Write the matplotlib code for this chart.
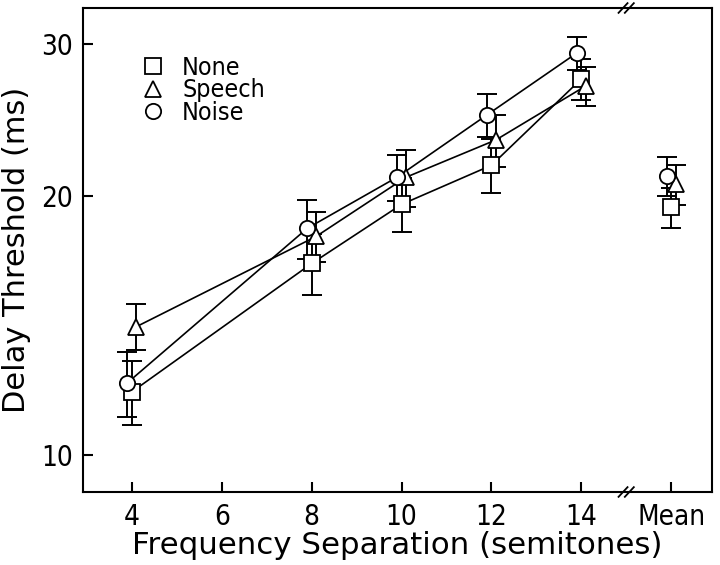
import matplotlib
matplotlib.use('Agg')
import matplotlib.pyplot as plt
from matplotlib import font_manager
from matplotlib.lines import Line2D
import matplotlib.transforms as mtransforms

# ── data (ms) ────────────────────────────────────────────────────────────────
separation = [4, 8, 10, 12, 14]
mean_pos = 16
x_ticks = [4, 6, 8, 10, 12, 14, 16]
x_ticklabels = ["4", "6", "8", "10", "12", "14", "Mean"]
y_ticks = [10, 20, 30]

none_thr = [11.84, 16.68, 19.53, 21.68, 27.3]
none_err = [1.00, 1.35, 1.41, 1.56, 1.50]
none_mean, none_mean_err = 19.37, 1.01

speech_thr = [14.09, 17.93, 21.0, 23.2, 26.8]
speech_err = [0.86, 1.19, 1.58, 1.61, 1.40]
speech_mean, speech_mean_err = 20.6, 1.10

noise_thr = [12.13, 18.32, 21.0, 24.8, 29.26]
noise_err = [1.05, 1.43, 1.27, 1.43, 1.28]
noise_mean, noise_mean_err = 21.05, 1.10

# ── fonts: narrow sans for ticks/legend, DejaVu for the axis titles ──────────
names = {f.name for f in font_manager.fontManager.ttflist}
if 'Liberation Sans Narrow' in names:
    NARROW = {'family': ['Liberation Sans Narrow', 'DejaVu Sans']}
else:
    NARROW = {'family': ['DejaVu Sans'], 'stretch': 'condensed'}
plt.rcParams['font.family'] = ['DejaVu Sans']

series = [
    ("None",   's', 0.0,  none_thr,   none_err,   none_mean,   none_mean_err),
    ("Speech", '^', 0.1,  speech_thr, speech_err, speech_mean, speech_mean_err),
    ("Noise",  'o', -0.1, noise_thr,  noise_err,  noise_mean,  noise_mean_err),
]

fig = plt.figure(figsize=(7.2, 5.65), dpi=100)
ax = fig.add_axes([83/720, 1 - 492/565, 629/720, 484/565])

for label, mk, off, thr, err, m, merr in series:
    xs = [x + off for x in separation]
    ax.plot(xs, thr, '-', color='black', lw=1.2, zorder=2)
    ax.errorbar(xs + [mean_pos + off], thr + [m], yerr=err + [merr],
                fmt='none', ecolor='black', elinewidth=1.4, capsize=7,
                capthick=1.4, zorder=2)
    ax.plot(xs + [mean_pos + off], thr + [m], linestyle='none', marker=mk,
            ms=11, mfc='white', mec='black', mew=1.3, zorder=3)

ax.set_yscale('log')
ax.set_ylim(9.06, 33.0)
ax.set_xlim(2.91, 16.91)
ax.set_yticks(y_ticks)
ax.set_yticklabels([str(t) for t in y_ticks], fontsize=20, **NARROW)
ax.yaxis.set_minor_locator(matplotlib.ticker.NullLocator())
ax.set_xticks(x_ticks)
ax.set_xticklabels(x_ticklabels, fontsize=20, **NARROW)
ax.tick_params(direction='in', length=7, width=1.5)
ax.tick_params(axis='y', pad=7)
ax.tick_params(axis='x', pad=8)
for sp in ax.spines.values():
    sp.set_linewidth(1.5)

ax.set_xlabel("Frequency Separation (semitones)", fontsize=22.2)
ax.set_ylabel("Delay Threshold (ms)", fontsize=22)
ax.xaxis.set_label_coords(0.5, (492 - 554) / 484)
ax.xaxis.label.set_va('baseline')
ax.yaxis.set_label_coords((17 - 83) / 629, 0.5)
ax.yaxis.label.set_va('center')

# axis break marks
trans = mtransforms.blended_transform_factory(ax.transData, ax.transAxes)
for yb in (0.0, 1.0):
    for o in (-0.07, 0.07):
        ax.plot([15 + o - 0.1, 15 + o + 0.1], [yb - 0.01, yb + 0.01],
                color='black', lw=1.3, transform=trans, clip_on=False, zorder=5)

handles = [Line2D([], [], linestyle='none', marker=mk, ms=11, mfc='white',
                  mec='black', mew=1.3) for _, mk, *_ in series]
leg = ax.legend(handles, [s[0] for s in series], loc='upper left',
                bbox_to_anchor=(0.076, 0.921), frameon=False,
                prop=dict(size=18, **NARROW),
                handletextpad=0.65, labelspacing=-0.07, handlelength=1.0,
                borderaxespad=0)

fig.savefig('out.png', dpi=100)
